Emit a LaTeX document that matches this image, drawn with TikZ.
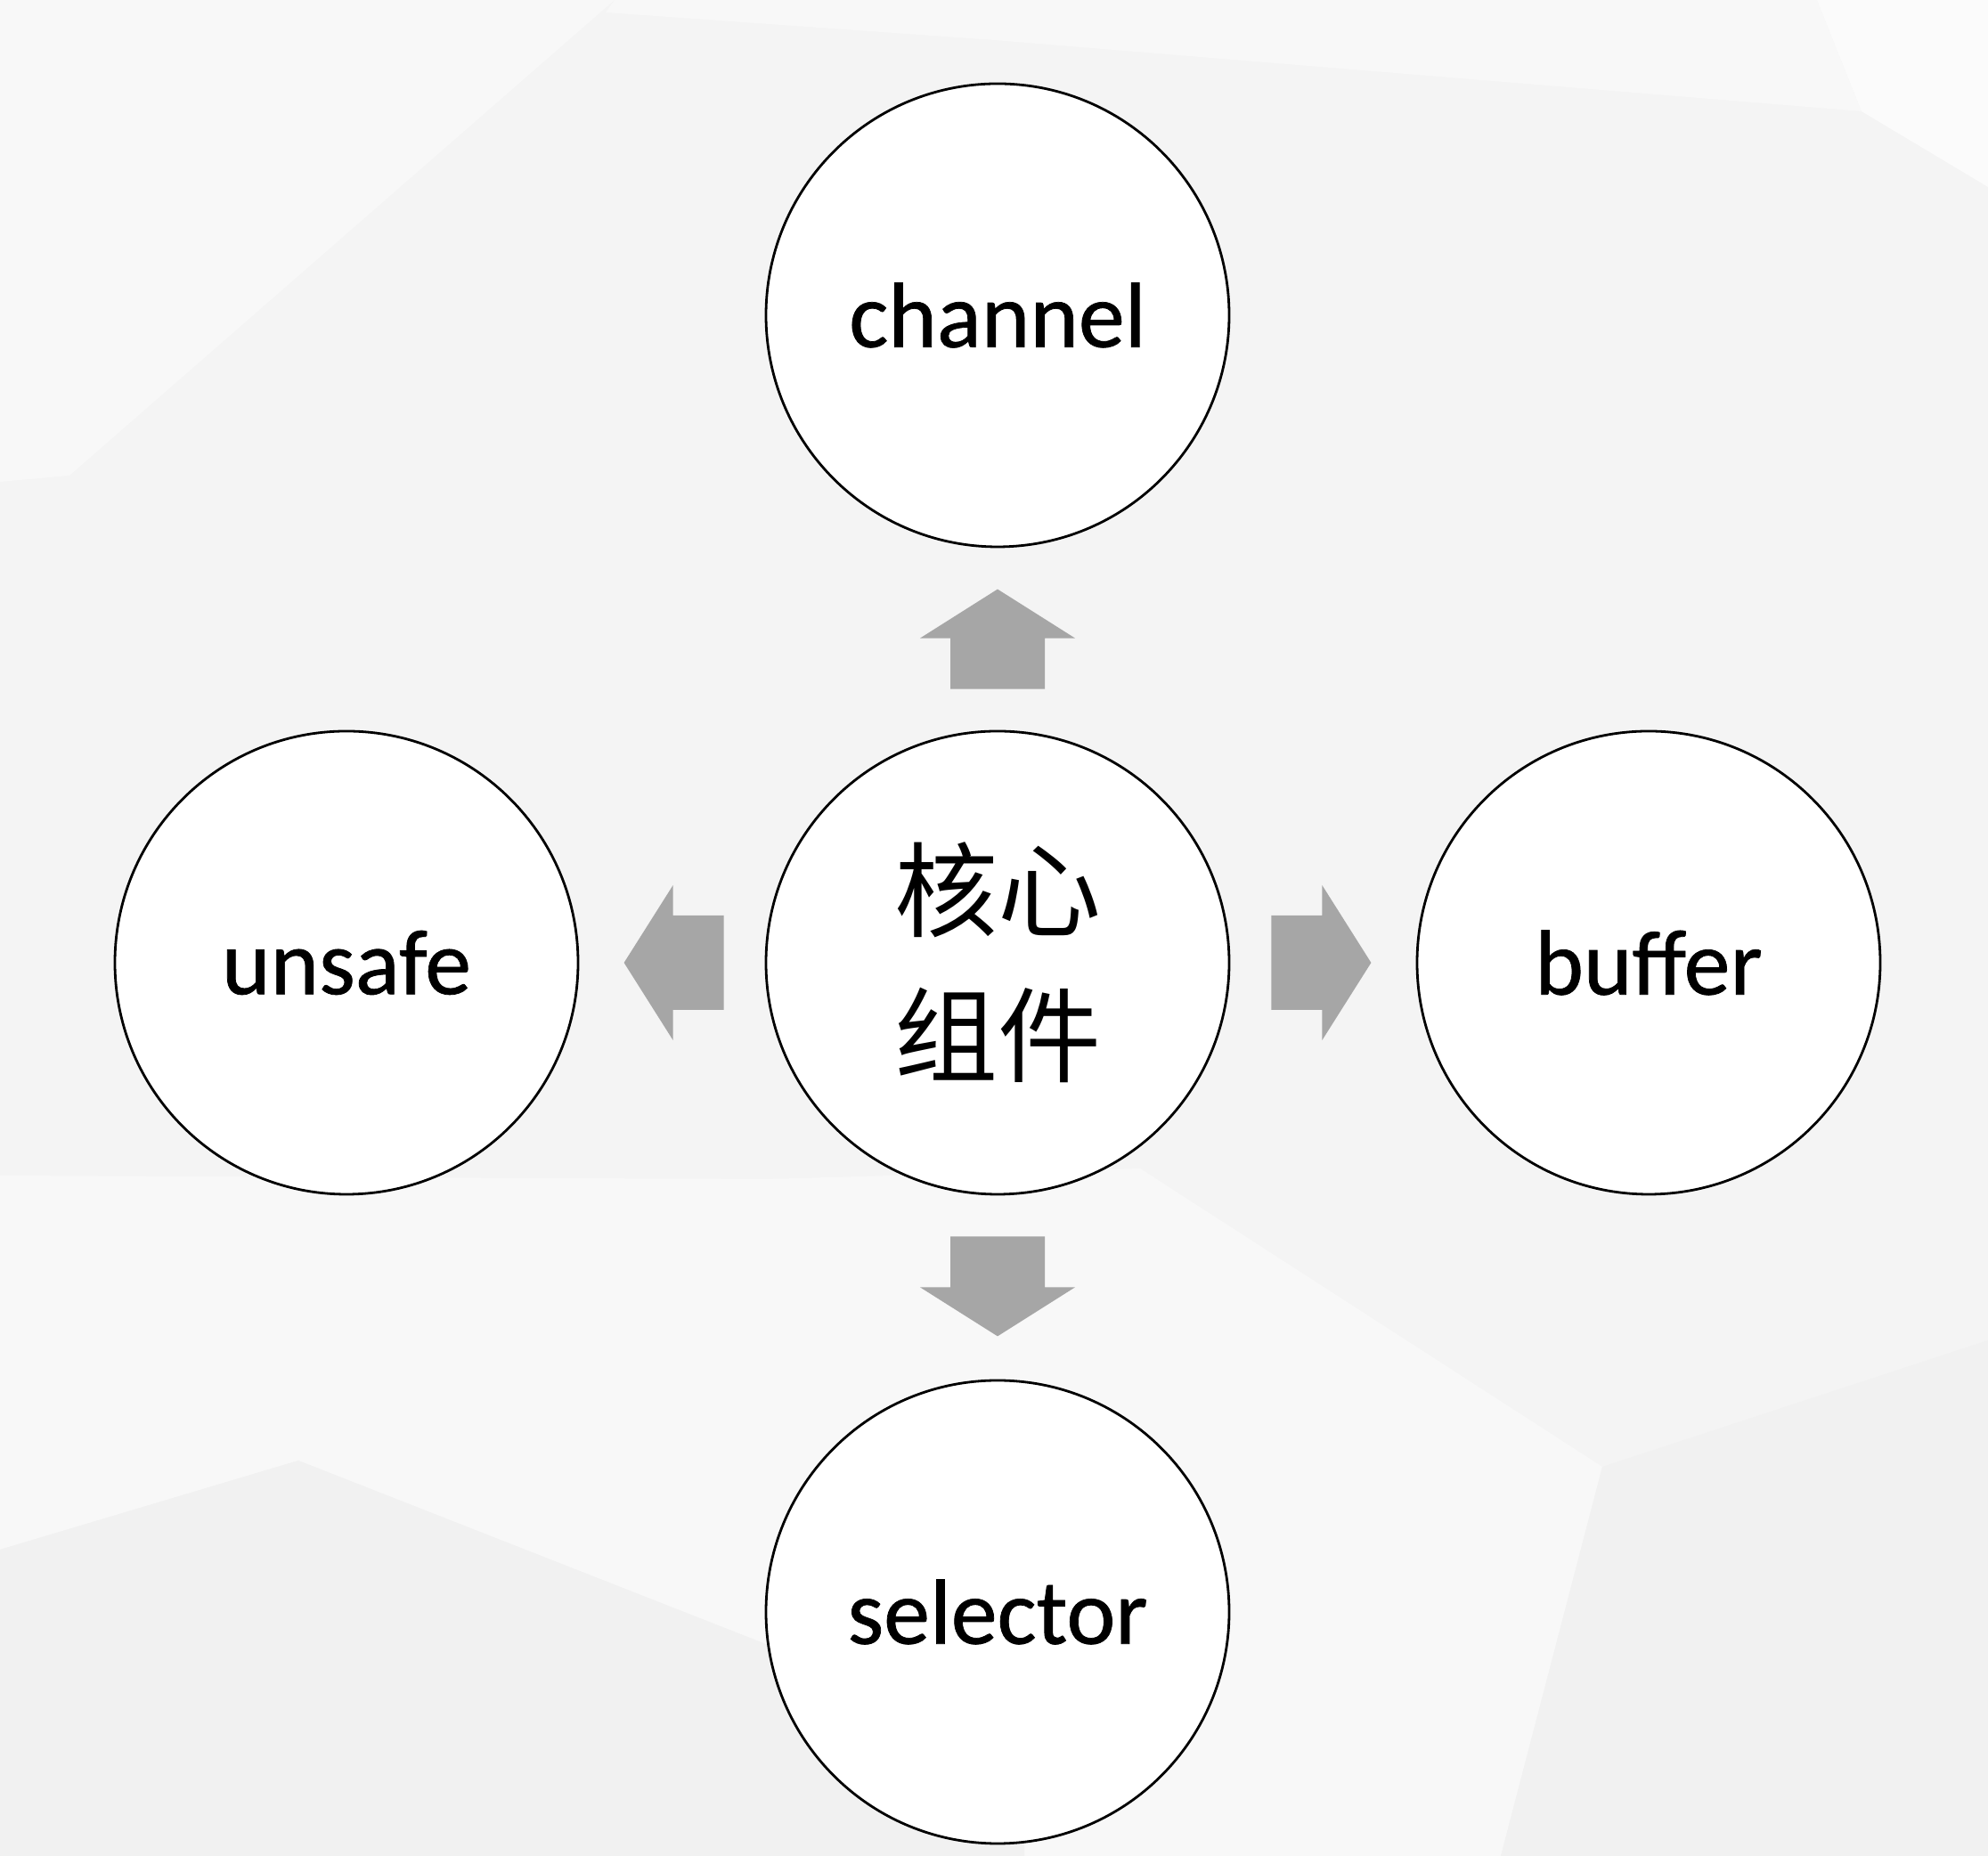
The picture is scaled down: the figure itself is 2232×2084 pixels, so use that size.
\documentclass[tikz,border=0pt]{standalone}
\usepackage{fontspec}
\setmainfont{Carlito}
\newfontfamily\labelfont{Carlito}[FakeBold=0.7]
\newfontfamily\cjk{Noto Sans CJK SC}
\usetikzlibrary{calc}
\definecolor{arrowfill}{HTML}{A6A6A6}
\definecolor{bgbase}{HTML}{F4F4F4}
\definecolor{bglight}{HTML}{F8F8F8}
\definecolor{bglighter}{HTML}{FBFBFB}
\definecolor{bgdark}{HTML}{F1F1F1}
\tikzset{
  comp/.style={circle, draw=black, line width=2.8pt, fill=white, minimum size=520pt, inner sep=0pt,
    font=\labelfont\fontsize{104}{120}\selectfont},
  corecomp/.style={comp, align=center, font=\cjk\fontsize{116}{163}\selectfont},
  blockarrow/.style={fill=arrowfill}
}
\newcommand\myblockarrow[2]{%
  \begin{scope}[shift={(#1)}, rotate=#2]
    \fill[blockarrow] (0,-53) -- (57,-53) -- (57,-87) -- (112,0) -- (57,87) -- (57,53) -- (0,53) -- cycle;
  \end{scope}}
\begin{document}
\begin{tikzpicture}[x=1pt,y=1pt]
\useasboundingbox (0,0) rectangle (2232,2084);
% background facets
\fill[bgbase] (0,0) rectangle (2232,2084);
\fill[bglight] (0,2084) -- (690,2084) -- (78,1550) -- (0,1543) -- cycle;
\fill[bglight] (690,2084) -- (2040,2084) -- (2090,1959) -- (1116,2039) -- (680,2070) -- cycle;
\fill[bglighter] (2040,2084) -- (2232,2084) -- (2232,1874) -- (2090,1959) -- cycle;
\fill[bglight] (0,764) -- (860,760) -- (1280,772) -- (1799,437) -- (1685,0) -- (1150,0) -- (1150,124) -- (335,444) -- (0,344) -- cycle;
\fill[bgdark] (0,344) -- (335,444) -- (1150,124) -- (1150,0) -- (0,0) -- cycle;
\fill[bgdark] (1799,437) -- (2232,579) -- (2232,0) -- (1685,0) -- cycle;
% components
\node[corecomp] (core) at (1120,1003) {核心\\组件};
\node[comp] (channel) at (1120,1730) {channel};
\node[comp] (selector) at (1120,274) {selector};
\node[comp] (unsafe) at (389,1003) {unsafe};
\node[comp] (buffer) at (1851,1003) {buffer};
% block arrows
\myblockarrow{$(core.north)+(0,46)$}{90}
\myblockarrow{$(core.south)+(0,-46)$}{-90}
\myblockarrow{$(core.west)+(-46,0)$}{180}
\myblockarrow{$(core.east)+(46,0)$}{0}
\end{tikzpicture}
\end{document}
